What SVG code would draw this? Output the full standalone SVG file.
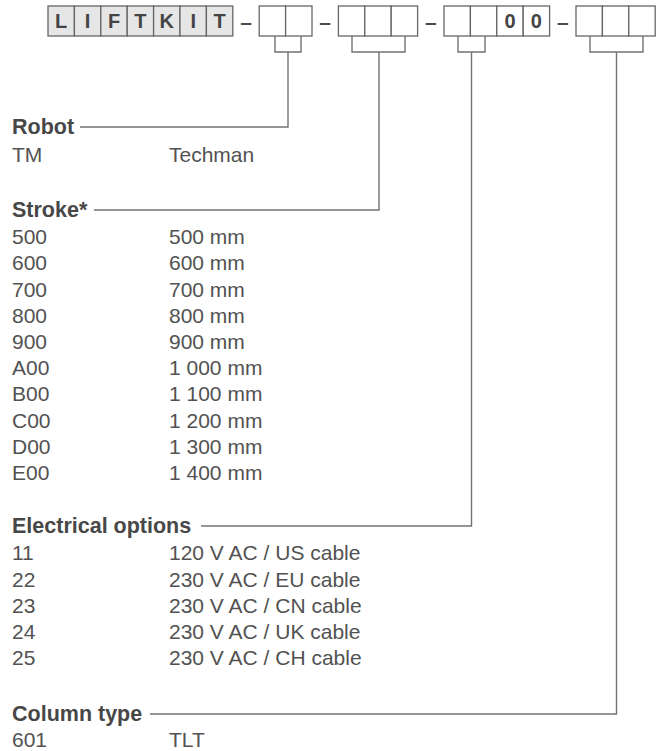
<svg xmlns="http://www.w3.org/2000/svg" width="656" height="751" viewBox="0 0 656 751">
<style>
.cell{fill:#ffffff;stroke:#666666;stroke-width:1.3}
.g{fill:#e6e6e6}
.ch{font-family:"Liberation Sans",Arial,sans-serif;font-weight:bold;font-size:20px;fill:#444444;text-anchor:middle}
.dash{font-family:"Liberation Sans",Arial,sans-serif;font-weight:bold;font-size:21px;fill:#4a4a4a;text-anchor:middle}
.h{font-family:"Liberation Sans",Arial,sans-serif;font-weight:bold;font-size:21.5px;fill:#474747}
.t{font-family:"Liberation Sans",Arial,sans-serif;font-size:21px;fill:#525252}
.ln{fill:none;stroke:#737373;stroke-width:1.4}
</style>
<rect width="656" height="751" fill="#ffffff"/>
<g id="code">
<rect class="cell g" x="48" y="6" width="26.4" height="30"/>
<rect class="cell g" x="74.4" y="6" width="26.4" height="30"/>
<rect class="cell g" x="100.8" y="6" width="26.4" height="30"/>
<rect class="cell g" x="127.2" y="6" width="26.4" height="30"/>
<rect class="cell g" x="153.6" y="6" width="26.4" height="30"/>
<rect class="cell g" x="180" y="6" width="26.4" height="30"/>
<rect class="cell g" x="206.4" y="6" width="26.4" height="30"/>
<text class="ch" x="61.2" y="28.2">L</text>
<text class="ch" x="87.6" y="28.2">I</text>
<text class="ch" x="114" y="28.2">F</text>
<text class="ch" x="140.4" y="28.2">T</text>
<text class="ch" x="166.8" y="28.2">K</text>
<text class="ch" x="193.2" y="28.2">I</text>
<text class="ch" x="219.6" y="28.2">T</text>
<text class="dash" x="246" y="29">–</text>
<rect class="cell" x="259.2" y="6" width="26.4" height="30"/>
<rect class="cell" x="285.6" y="6" width="26.4" height="30"/>
<text class="dash" x="325.2" y="29">–</text>
<rect class="cell" x="338.4" y="6" width="26.4" height="30"/>
<rect class="cell" x="364.8" y="6" width="26.4" height="30"/>
<rect class="cell" x="391.2" y="6" width="26.4" height="30"/>
<text class="dash" x="430.8" y="29">–</text>
<rect class="cell" x="444" y="6" width="26.4" height="30"/>
<rect class="cell" x="470.4" y="6" width="26.4" height="30"/>
<rect class="cell" x="496.8" y="6" width="26.4" height="30"/>
<rect class="cell" x="523.2" y="6" width="26.4" height="30"/>
<text class="ch" x="510" y="28.2">0</text>
<text class="ch" x="536.4" y="28.2">0</text>
<text class="dash" x="562.8" y="29">–</text>
<rect class="cell" x="576" y="6" width="26.4" height="30"/>
<rect class="cell" x="602.4" y="6" width="26.4" height="30"/>
<rect class="cell" x="628.8" y="6" width="26.4" height="30"/>
</g>
<g id="connectors">
<path class="ln" d="M275,36 V52 H301 V36 M288,52 V127 H80"/>
<path class="ln" d="M352,36 V52 H405 V36 M379,52 V210 H94"/>
<path class="ln" d="M458,36 V52 H485 V36 M471.5,52 V526 H201"/>
<path class="ln" d="M590,36 V52 H643 V36 M616.5,52 V714 H150"/>
</g>
<g id="robot">
<text class="h" x="12" y="134">Robot</text>
<text class="t" x="12" y="162">TM</text><text class="t" x="169" y="162">Techman</text>
</g>
<g id="stroke">
<text class="h" x="12" y="217">Stroke*</text>
<text class="t" x="12" y="244">500</text><text class="t" x="169" y="244">500 mm</text>
<text class="t" x="12" y="270">600</text><text class="t" x="169" y="270">600 mm</text>
<text class="t" x="12" y="296.5">700</text><text class="t" x="169" y="296.5">700 mm</text>
<text class="t" x="12" y="322.5">800</text><text class="t" x="169" y="322.5">800 mm</text>
<text class="t" x="12" y="349">900</text><text class="t" x="169" y="349">900 mm</text>
<text class="t" x="12" y="375">A00</text><text class="t" x="169" y="375">1 000 mm</text>
<text class="t" x="12" y="401">B00</text><text class="t" x="169" y="401">1 100 mm</text>
<text class="t" x="12" y="427.5">C00</text><text class="t" x="169" y="427.5">1 200 mm</text>
<text class="t" x="12" y="453.5">D00</text><text class="t" x="169" y="453.5">1 300 mm</text>
<text class="t" x="12" y="480">E00</text><text class="t" x="169" y="480">1 400 mm</text>
</g>
<g id="electrical">
<text class="h" x="12" y="533">Electrical options</text>
<text class="t" x="12" y="560">11</text><text class="t" x="169" y="560">120 V AC / US cable</text>
<text class="t" x="12" y="586.5">22</text><text class="t" x="169" y="586.5">230 V AC / EU cable</text>
<text class="t" x="12" y="612.5">23</text><text class="t" x="169" y="612.5">230 V AC / CN cable</text>
<text class="t" x="12" y="639">24</text><text class="t" x="169" y="639">230 V AC / UK cable</text>
<text class="t" x="12" y="665">25</text><text class="t" x="169" y="665">230 V AC / CH cable</text>
</g>
<g id="column">
<text class="h" x="12" y="721">Column type</text>
<text class="t" x="12" y="747">601</text><text class="t" x="169" y="747">TLT</text>
</g>
</svg>
